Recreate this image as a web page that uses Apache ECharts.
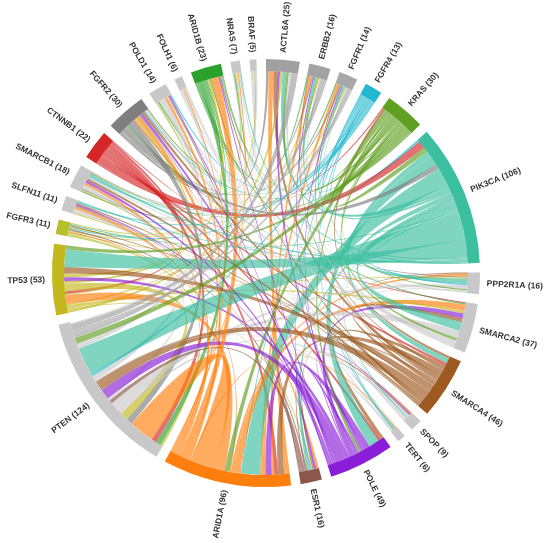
<!DOCTYPE html>
<html>
<head>
<meta charset="utf-8">
<script src="https://cdn.jsdelivr.net/npm/echarts@6/dist/echarts.min.js"></script>
<style>
html,body{margin:0;padding:0;background:#fff;}
#chart{width:550px;height:543px;}
</style>
</head>
<body>
<div id="chart"></div>
<script>
// Genes in clockwise order starting at the top
const genes = ['ACTL6A','ERBB2','FGFR1','FGFR4','KRAS','PIK3CA','PPP2R1A','SMARCA2','SMARCA4','SPOP','TERT','POLE','ESR1','ARID1A','PTEN','TP53','FGFR3','SLFN11','SMARCB1','CTNNB1','FGFR2','POLD1','FOLH1','ARID1B','NRAS','BRAF'];
const counts = [25,16,14,13,30,106,16,37,46,9,6,49,16,96,124,53,11,11,18,22,30,14,6,23,7,5];
const geneColors = ['#a0a0a0','#a3a3a3','#a8a8a8','#22b8cf','#5fa020','#3cbf9f','#c8c8c8','#c8c8c8','#9c5a20','#c8c8c8','#c8c8c8','#8a1ed8','#8c564b','#ff7f0e','#c8c8c8','#c4b81f','#b7c02b','#c8c8c8','#c8c8c8','#d62728','#7f7f7f','#c8c8c8','#c8c8c8','#2ca02c','#c8c8c8','#c8c8c8'];

// Co-occurrence links: [source (colour owner), target, value]
const links = [
 ['PIK3CA','PTEN',22],['PIK3CA','TP53',14],['PIK3CA','ARID1A',14],['PIK3CA','POLE',8],['PIK3CA','SMARCA2',7],
 ['PIK3CA','SMARCA4',4],['PIK3CA','PPP2R1A',4],['CTNNB1','PIK3CA',6],['KRAS','PIK3CA',4],['PIK3CA','ACTL6A',3],
 ['FGFR2','PIK3CA',4],['PIK3CA','ERBB2',2],['PIK3CA','FGFR1',2],['FGFR4','PIK3CA',2],['PIK3CA','ESR1',2],
 ['PIK3CA','TERT',1],['PIK3CA','SPOP',1],['PIK3CA','SMARCB1',2],['PIK3CA','SLFN11',1],['PIK3CA','FGFR3',1],
 ['PIK3CA','ARID1B',1],['PIK3CA','NRAS',1],
 ['ARID1A','PTEN',20],['POLE','PTEN',8],['SMARCA4','PTEN',8],['TP53','PTEN',6],['CTNNB1','PTEN',4],
 ['FGFR2','PTEN',5],['ARID1B','PTEN',4],['KRAS','PTEN',5],['PTEN','SMARCA2',6],['ACTL6A','PTEN',5],
 ['ERBB2','PTEN',3],['FGFR1','PTEN',3],['PTEN','PPP2R1A',3],['PTEN','SMARCB1',3],['PTEN','SLFN11',2],
 ['ESR1','PTEN',3],['PTEN','POLD1',3],['FGFR4','PTEN',2],['FGFR3','PTEN',2],['PTEN','SPOP',2],
 ['PTEN','TERT',1],['PTEN','NRAS',1],['PTEN','FOLH1',1],['PTEN','BRAF',1],
 ['ARID1A','TP53',7],['ARID1A','ARID1B',6],['POLE','ARID1A',5],['SMARCA4','ARID1A',5],['KRAS','ARID1A',4],
 ['ARID1A','SMARCA2',5],['ARID1A','ACTL6A',4],['ARID1A','FGFR2',3],['CTNNB1','ARID1A',3],['ARID1A','ESR1',2],
 ['ARID1A','SMARCB1',2],['ARID1A','SLFN11',2],['ARID1A','ERBB2',2],['ARID1A','FGFR1',2],['ARID1A','POLD1',2],
 ['ARID1A','PPP2R1A',2],['ARID1A','FGFR3',1],['FGFR4','ARID1A',1],['ARID1A','SPOP',1],['ARID1A','NRAS',1],
 ['ARID1A','FOLH1',1],['ARID1A','TERT',1],
 ['SMARCA4','TP53',5],['POLE','TP53',3],['KRAS','TP53',3],['TP53','FGFR2',2],['TP53','ACTL6A',2],
 ['TP53','SMARCA2',2],['CTNNB1','TP53',2],['TP53','ARID1B',2],['TP53','ERBB2',1],['TP53','FGFR1',1],
 ['TP53','PPP2R1A',1],['TP53','ESR1',1],['TP53','SMARCB1',1],
 ['SMARCA4','POLE',3],['POLE','SMARCA2',4],['POLE','SMARCB1',2],['POLE','ESR1',2],['POLE','ACTL6A',2],
 ['POLE','FGFR2',2],['CTNNB1','POLE',2],['KRAS','POLE',2],['POLE','ERBB2',1],['POLE','FGFR1',1],
 ['POLE','POLD1',1],['POLE','ARID1B',1],['POLE','SLFN11',1],['POLE','SPOP',1],
 ['SMARCA4','SMARCA2',3],['SMARCA4','ACTL6A',3],['SMARCA4','FGFR2',2],['SMARCA4','KRAS',2],['CTNNB1','SMARCA4',2],
 ['SMARCA4','ERBB2',1],['SMARCA4','FGFR1',1],['SMARCA4','PPP2R1A',1],['SMARCA4','SMARCB1',2],['SMARCA4','SLFN11',1],
 ['SMARCA4','ARID1B',1],['SMARCA4','ESR1',1],['SMARCA4','FGFR3',1],
 ['KRAS','SMARCA2',2],['KRAS','ACTL6A',2],['KRAS','FGFR2',1],['CTNNB1','KRAS',1],['KRAS','SMARCB1',1],
 ['KRAS','ERBB2',1],['KRAS','PPP2R1A',1],['KRAS','ARID1B',1],
 ['SMARCA2','ACTL6A',2],['SMARCA2','FGFR2',2],['CTNNB1','SMARCA2',1],['SMARCA2','ERBB2',1],['ARID1B','SMARCA2',1],
 ['SMARCA2','FGFR1',1],
 ['CTNNB1','FGFR2',1],
 ['FGFR2','ACTL6A',2],['FGFR2','ERBB2',1],['FGFR2','FGFR1',1],['FGFR2','SMARCB1',1],['ARID1B','FGFR2',1],
 ['FGFR2','PPP2R1A',1],['FGFR4','FGFR2',1],
 ['ARID1B','ERBB2',1],['ARID1B','FGFR1',1],['ARID1B','POLD1',1],['ARID1B','SMARCB1',1],['ARID1B','NRAS',1],
 ['ERBB2','FGFR1',1],['ERBB2','SMARCB1',1],
 ['FGFR4','SMARCB1',1],['FGFR4','SLFN11',1],['FGFR4','POLD1',1],['FGFR4','ESR1',1],['FGFR4','PPP2R1A',1],
 ['FGFR4','FGFR3',1],['FGFR4','TERT',1],
 ['PPP2R1A','SMARCB1',1],['PPP2R1A','SPOP',1],
 ['ESR1','SLFN11',1],['ESR1','POLD1',1],['ESR1','SPOP',1],['ESR1','FGFR3',1],
 ['FGFR3','SLFN11',1],['SLFN11','POLD1',1],
 ['FGFR3','POLD1',1],['FGFR3','NRAS',1],['FGFR3','BRAF',1],
 ['POLD1','FOLH1',1],['POLD1','TERT',1],['POLD1','BRAF',1],
 ['SPOP','FOLH1',1],['SPOP','NRAS',1],['TERT','FOLH1',1],['FOLH1','BRAF',1],['NRAS','BRAF',1]
];

// Ribbon order: on each arc, incoming ribbons first (partner index descending),
// then outgoing ribbons (partner index ascending); a single global order approximates all arcs.
function orderLinks(list) {
  const idx = {};
  genes.forEach(function (g, i) { idx[g] = i; });
  const seqs = genes.map(function () { return []; });
  list.forEach(function (l, k) {
    seqs[idx[l[1]]].push({ k: k, key: -100 - idx[l[0]], v: l[2] });
    seqs[idx[l[0]]].push({ k: k, key: idx[l[1]], v: l[2] });
  });
  const pos = list.map(function () { return 0; });
  seqs.forEach(function (s) {
    s.sort(function (a, b) { return a.key - b.key; });
    let tot = 0; s.forEach(function (e) { tot += e.v; });
    let acc = 0;
    s.forEach(function (e) { pos[e.k] += (acc + e.v / 2) / tot; acc += e.v; });
  });
  return list.map(function (l, k) { return { l: l, p: pos[k] }; })
    .sort(function (a, b) { return a.p - b.p; })
    .map(function (o) { return o.l; });
}
const orderedLinks = orderLinks(links);

const CX = 266, CY = 273, R0 = 202, R1 = 214;
const chart = echarts.init(document.getElementById('chart'), null, {renderer: 'canvas'});

function radialLabel(p) {
  let lay = null;
  try { lay = chart.getModel().getSeriesByIndex(0).getData().getItemLayout(p.dataIndex); } catch (e) {}
  let cx = CX, cy = CY, r = R1, th;
  if (lay && lay.startAngle != null && lay.endAngle != null) {
    if (lay.cx != null) { cx = lay.cx; cy = lay.cy; }
    if (lay.r != null) r = lay.r;
    th = (lay.startAngle + lay.endAngle) / 2;
  } else {
    th = Math.atan2(p.rect.y + p.rect.height / 2 - cy, p.rect.x + p.rect.width / 2 - cx);
  }
  const d = r + 7;
  const deg = -th * 180 / Math.PI;
  const flip = Math.cos(th) < -0.001;
  return {
    x: cx + d * Math.cos(th),
    y: cy + d * Math.sin(th),
    rotate: flip ? deg + 180 : deg,
    align: flip ? 'right' : 'left',
    verticalAlign: 'middle'
  };
}

chart.setOption({
  animation: false,
  backgroundColor: '#fff',
  series: [{
    type: 'chord',
    center: [CX, CY],
    radius: [R0, R1],
    startAngle: 90,
    clockwise: true,
    padAngle: 2.6,
    minAngle: 0,
    itemStyle: { borderRadius: 0, borderWidth: 0 },
    lineStyle: { color: 'source', opacity: 0.66 },
    label: {
      show: true,
      position: 'outside',
      color: '#333',
      fontFamily: 'Liberation Sans, Arial, sans-serif',
      fontWeight: 'bold',
      fontSize: 8.5,
      formatter: function (p) { return p.name + ' (' + counts[genes.indexOf(p.name)] + ')'; }
    },
    labelLayout: radialLabel,
    data: genes.map(function (g, i) {
      return { name: g, value: counts[i], itemStyle: { color: geneColors[i] } };
    }),
    links: orderedLinks.map(function (l) { return { source: l[0], target: l[1], value: l[2] }; })
  }]
});
</script>
</body>
</html>
